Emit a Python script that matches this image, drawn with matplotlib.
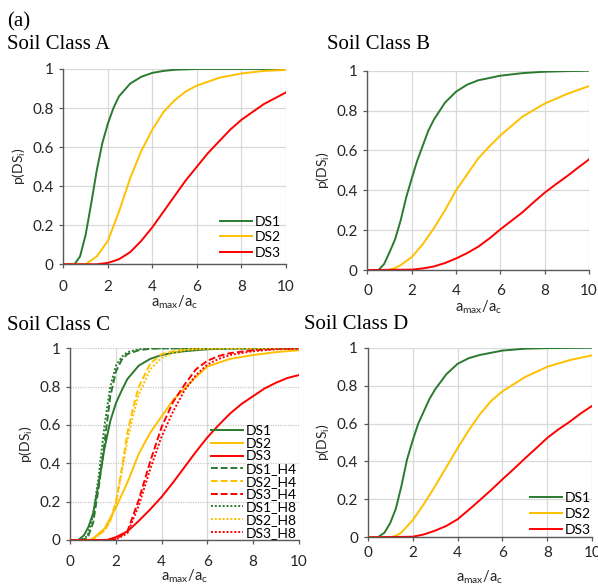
import matplotlib.pyplot as plt

plt.rcParams['font.family'] = ['Lato', 'DejaVu Sans']
plt.rcParams['mathtext.fontset'] = 'custom'
plt.rcParams['mathtext.rm'] = 'Lato'

# ---- Soil Class A ----
a_ds1_x = [0, 0.5, 0.75, 1, 1.25, 1.5, 1.75, 2, 2.25, 2.5, 3, 3.5, 4, 4.5, 5, 6, 10]
a_ds1_y = [0, 0, 0.04, 0.15, 0.31, 0.48, 0.62, 0.72, 0.80, 0.86, 0.925, 0.96, 0.98, 0.99, 0.996, 1, 1]
a_ds2_x = [0, 1, 1.5, 2, 2.5, 3, 3.5, 4, 4.5, 5, 5.5, 6, 7, 8, 9, 10]
a_ds2_y = [0, 0, 0.04, 0.12, 0.27, 0.44, 0.58, 0.69, 0.78, 0.84, 0.885, 0.915, 0.955, 0.977, 0.99, 0.995]
a_ds3_x = [0, 1.5, 2, 2.5, 3, 3.5, 4, 4.5, 5, 5.5, 6, 6.5, 7, 7.5, 8, 8.5, 9, 9.5, 10]
a_ds3_y = [0, 0, 0.007, 0.026, 0.062, 0.12, 0.19, 0.27, 0.35, 0.43, 0.50, 0.57, 0.63, 0.69, 0.74, 0.78, 0.82, 0.85, 0.88]

# ---- Soil Class B ----
b_ds1_x = [0, 0.5, 0.75, 1, 1.25, 1.5, 1.75, 2, 2.25, 2.5, 2.75, 3, 3.5, 4, 4.5, 5, 6, 7, 8, 9, 10]
b_ds1_y = [0, 0, 0.03, 0.09, 0.155, 0.25, 0.365, 0.46, 0.55, 0.625, 0.70, 0.755, 0.84, 0.895, 0.93, 0.952, 0.975, 0.988, 0.995, 0.998, 1]
b_ds2_x = [0, 0.9, 1.25, 1.5, 2, 2.5, 3, 3.5, 4, 4.5, 5, 5.5, 6, 7, 8, 9, 10]
b_ds2_y = [0, 0, 0.01, 0.025, 0.065, 0.13, 0.21, 0.30, 0.40, 0.48, 0.56, 0.62, 0.675, 0.77, 0.835, 0.883, 0.923]
b_ds3_x = [0, 2, 2.5, 3, 3.5, 4, 4.5, 5, 5.5, 6, 6.5, 7, 7.5, 8, 8.5, 9, 9.5, 10]
b_ds3_y = [0, 0.002, 0.008, 0.018, 0.035, 0.058, 0.085, 0.117, 0.158, 0.204, 0.247, 0.29, 0.34, 0.388, 0.43, 0.47, 0.513, 0.555]

# ---- Soil Class C ----
c_ds1_x = [0, 0.35, 0.6, 0.8, 1, 1.25, 1.5, 1.75, 2, 2.25, 2.5, 3, 3.5, 4, 4.5, 5, 6, 7, 10]
c_ds1_y = [0, 0, 0.025, 0.07, 0.14, 0.30, 0.48, 0.62, 0.715, 0.78, 0.84, 0.91, 0.945, 0.965, 0.977, 0.985, 0.995, 0.999, 1]
c_ds2_x = [0, 0.8, 1, 1.5, 2, 2.5, 3, 3.5, 4, 4.5, 5, 5.5, 6, 7, 8, 9, 10]
c_ds2_y = [0, 0, 0.008, 0.06, 0.17, 0.30, 0.45, 0.56, 0.645, 0.73, 0.79, 0.85, 0.905, 0.945, 0.965, 0.98, 0.99]
c_ds3_x = [0, 1.6, 2, 2.5, 3, 3.5, 4, 4.5, 5, 5.5, 6, 6.5, 7, 7.5, 8, 8.5, 9, 9.5, 10]
c_ds3_y = [0, 0, 0.015, 0.045, 0.10, 0.16, 0.225, 0.30, 0.38, 0.46, 0.535, 0.60, 0.66, 0.71, 0.75, 0.79, 0.82, 0.845, 0.86]
c_ds1_h4_x = [0, 0.5, 0.75, 1, 1.25, 1.5, 1.75, 2, 2.25, 2.5, 3, 3.5, 4, 10]
c_ds1_h4_y = [0, 0, 0.01, 0.09, 0.28, 0.51, 0.75, 0.88, 0.94, 0.97, 0.99, 0.998, 1, 1]
c_ds2_h4_x = [0, 0.8, 1, 1.5, 1.75, 2, 2.25, 2.5, 2.75, 3, 3.5, 4, 4.5, 5, 6, 10]
c_ds2_h4_y = [0, 0, 0.005, 0.05, 0.10, 0.20, 0.37, 0.56, 0.69, 0.80, 0.92, 0.97, 0.985, 0.995, 1, 1]
c_ds3_h4_x = [0, 1.8, 2, 2.5, 3, 3.5, 4, 4.5, 5, 5.5, 6, 6.5, 7, 8, 9, 10]
c_ds3_h4_y = [0, 0, 0.005, 0.045, 0.21, 0.41, 0.59, 0.72, 0.81, 0.89, 0.935, 0.96, 0.975, 0.99, 0.997, 1]
c_ds1_h8_x = [0, 0.45, 0.75, 1, 1.25, 1.5, 1.75, 2, 2.25, 2.5, 3, 3.5, 10]
c_ds1_h8_y = [0, 0, 0.02, 0.13, 0.34, 0.60, 0.80, 0.91, 0.955, 0.98, 0.995, 1, 1]
c_ds2_h8_x = [0, 0.8, 1, 1.5, 1.75, 2, 2.25, 2.5, 2.75, 3, 3.5, 4, 4.5, 5, 6, 7, 10]
c_ds2_h8_y = [0, 0, 0.005, 0.05, 0.10, 0.19, 0.35, 0.52, 0.65, 0.76, 0.89, 0.95, 0.975, 0.99, 0.998, 1, 1]
c_ds3_h8_x = [0, 1.8, 2, 2.5, 3, 3.5, 4, 4.5, 5, 5.5, 6, 6.5, 7, 8, 9, 10]
c_ds3_h8_y = [0, 0, 0.003, 0.035, 0.18, 0.37, 0.54, 0.67, 0.78, 0.86, 0.915, 0.945, 0.965, 0.985, 0.995, 0.998]

# ---- Soil Class D ----
d_ds1_x = [0, 0.45, 0.75, 1, 1.25, 1.5, 1.75, 2, 2.25, 2.5, 2.75, 3, 3.5, 4, 4.5, 5, 6, 7, 8, 10]
d_ds1_y = [0, 0, 0.025, 0.075, 0.15, 0.27, 0.41, 0.51, 0.60, 0.665, 0.73, 0.78, 0.86, 0.915, 0.945, 0.962, 0.985, 0.995, 0.998, 1]
d_ds2_x = [0, 1, 1.25, 1.5, 2, 2.5, 3, 3.5, 4, 4.5, 5, 5.5, 6, 7, 8, 9, 10]
d_ds2_y = [0, 0, 0.008, 0.025, 0.09, 0.175, 0.27, 0.37, 0.47, 0.565, 0.65, 0.72, 0.77, 0.845, 0.90, 0.935, 0.96]
d_ds3_x = [0, 2, 2.5, 3, 3.5, 4, 4.5, 5, 5.5, 6, 6.5, 7, 7.5, 8, 8.5, 9, 9.5, 10]
d_ds3_y = [0, 0.003, 0.015, 0.035, 0.06, 0.095, 0.145, 0.197, 0.25, 0.306, 0.36, 0.416, 0.47, 0.525, 0.57, 0.61, 0.655, 0.694]

x_ticks = [0, 2, 4, 6, 8, 10]
y_ticks = [0, 0.2, 0.4, 0.6, 0.8, 1]
y_tick_labels = ['0', '0.2', '0.4', '0.6', '0.8', '1']

GREEN = '#2b7a2f'
YELLOW = '#ffc000'
RED = '#ff0000'
LW = 1.4

fig = plt.figure(figsize=(5.98, 5.86), dpi=100)
ax_a = fig.add_axes([0.1059, 0.549, 0.3724, 0.3333])
ax_b = fig.add_axes([0.6145, 0.5392, 0.3704, 0.3401])
ax_c = fig.add_axes([0.1176, 0.0785, 0.3818, 0.3271])
ax_d = fig.add_axes([0.6149, 0.0831, 0.3756, 0.3235])


def style_axes(ax, xpad, xlabelpad, dotted_h=False):
    ax.set_xlim(0, 10)
    ax.set_ylim(0, 1)
    ax.set_xticks(x_ticks)
    ax.set_yticks(y_ticks)
    ax.set_yticklabels(y_tick_labels)
    ax.grid(axis='x', color='#d9d9d9', lw=0.9)
    if dotted_h:
        ax.grid(axis='y', color='#c8c8c8', lw=0.9, ls=(0, (1, 1)))
    else:
        ax.grid(axis='y', color='#d9d9d9', lw=0.9)
    ax.set_axisbelow(True)
    for s in ['top', 'right']:
        ax.spines[s].set_visible(False)
    for s in ['left', 'bottom']:
        ax.spines[s].set_color('#595959')
        ax.spines[s].set_linewidth(1.0)
    ax.tick_params(direction='out', length=3, width=0.9, color='#595959',
                   labelsize=11, labelcolor='#262626', pad=4)
    ax.tick_params(axis='x', pad=xpad)
    ax.set_xlabel(r'a$_{\mathregular{max}}$/a$_{\mathregular{c}}$', fontsize=10.5,
                  color='#262626', labelpad=xlabelpad)
    ax.set_ylabel(r'p(DS$_{\mathregular{i}}$)', fontsize=10, color='#262626', labelpad=3)


for ax, data, xpad, xlp in [
        (ax_a, (a_ds1_x, a_ds1_y, a_ds2_x, a_ds2_y, a_ds3_x, a_ds3_y), 8, 0),
        (ax_b, (b_ds1_x, b_ds1_y, b_ds2_x, b_ds2_y, b_ds3_x, b_ds3_y), 7, 0),
        (ax_d, (d_ds1_x, d_ds1_y, d_ds2_x, d_ds2_y, d_ds3_x, d_ds3_y), 3.5, 6)]:
    ax.plot(data[0], data[1], color=GREEN, lw=LW, label='DS1')
    ax.plot(data[2], data[3], color=YELLOW, lw=LW, label='DS2')
    ax.plot(data[4], data[5], color=RED, lw=LW, label='DS3')
    style_axes(ax, xpad, xlp)

ax_c.plot(c_ds1_x, c_ds1_y, color=GREEN, lw=LW, label='DS1')
ax_c.plot(c_ds2_x, c_ds2_y, color=YELLOW, lw=LW, label='DS2')
ax_c.plot(c_ds3_x, c_ds3_y, color=RED, lw=LW, label='DS3')
dash = (0, (3.5, 1.5))
dot = (0, (1, 1))
ax_c.plot(c_ds1_h4_x, c_ds1_h4_y, color=GREEN, lw=LW, ls=dash, label='DS1_H4')
ax_c.plot(c_ds2_h4_x, c_ds2_h4_y, color=YELLOW, lw=LW, ls=dash, label='DS2_H4')
ax_c.plot(c_ds3_h4_x, c_ds3_h4_y, color=RED, lw=LW, ls=dash, label='DS3_H4')
ax_c.plot(c_ds1_h8_x, c_ds1_h8_y, color=GREEN, lw=LW, ls=dot, label='DS1_H8')
ax_c.plot(c_ds2_h8_x, c_ds2_h8_y, color=YELLOW, lw=LW, ls=dot, label='DS2_H8')
ax_c.plot(c_ds3_h8_x, c_ds3_h8_y, color=RED, lw=LW, ls=dot, label='DS3_H8')
style_axes(ax_c, 7.5, -1, dotted_h=True)

leg_kw = dict(loc='lower right', frameon=False, fontsize=10, handlelength=2.3,
              handletextpad=0.2, borderpad=0.2)
ax_a.legend(labelspacing=0.25, borderaxespad=0.2, **leg_kw)
ax_d.legend(labelspacing=0.3, borderaxespad=-0.1, **leg_kw)
ax_c.legend(labelspacing=0.05, borderaxespad=-0.1, **leg_kw)

serif = ['Liberation Serif', 'DejaVu Serif']
fig.text(0.012, 0.963, '(a)', family=serif, fontsize=15, va='center')
fig.text(0.012, 0.917, 'Soil Class A', family=serif, fontsize=15, va='baseline')
fig.text(0.547, 0.917, 'Soil Class B', family=serif, fontsize=15, va='baseline')
fig.text(0.012, 0.437, 'Soil Class C', family=serif, fontsize=15, va='baseline')
fig.text(0.508, 0.439, 'Soil Class D', family=serif, fontsize=15, va='baseline')

fig.savefig('out.png', dpi=100)
